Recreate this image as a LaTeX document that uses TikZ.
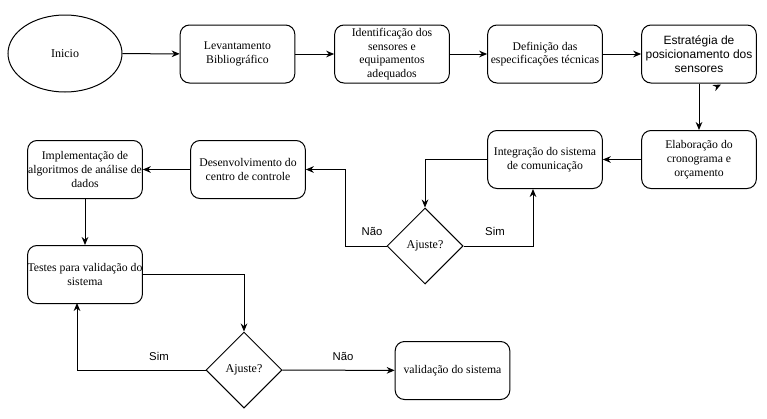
\documentclass[tikz,border=0pt]{standalone}
\usepackage{fontspec}
\setmainfont{Liberation Serif}
\setsansfont{Liberation Sans}
\usetikzlibrary{shapes.geometric,arrows.meta}

\begin{document}
\begin{tikzpicture}[x=0.75pt, y=-0.75pt, >={Stealth[length=6pt,width=5pt]},
    every path/.style={line width=0.75pt},
    box/.style={draw, rounded corners=7pt, minimum width=86pt, minimum height=43.5pt,
        align=center, inner sep=0pt, font=\fontsize{8.8}{10.3}\selectfont},
    decision/.style={draw, diamond, aspect=1, minimum size=57pt, inner sep=0pt,
        font=\fontsize{9}{10.3}\selectfont},
    lbl/.style={font=\sffamily\fontsize{8.5}{10}\selectfont}]
    \useasboundingbox (0,0) rectangle (767,418);

    % first row
    \node[draw, ellipse, minimum width=85.5pt, minimum height=57.75pt, inner sep=0pt,
        font=\fontsize{9}{10.3}\selectfont] (inicio) at (65,53.5) {Inicio};
    \node[box] (levant) at (237.5,54) {Levantamento\\Bibliográfico};
    \node[box] (ident) at (392,54) {Identificação dos\\sensores e\\equipamentos\\adequados};
    \node[box] (defin) at (545,54) {Definição das\\especificações técnicas};
    \node[box, font=\sffamily\fontsize{9}{10.5}\selectfont] (estrat) at (699,54) {Estratégia de\\posicionamento dos\\sensores};

    % second row
    \node[box] (elab) at (699,159.5) {Elaboração do\\cronograma e\\orçamento};
    \node[box] (integ) at (545,159.5) {Integração do sistema\\de comunicação};
    \node[box] (desenv) at (248,169.5) {Desenvolvimento do\\centro de controle};
    \node[box] (implem) at (85,169.5) {Implementação de\\algoritmos de análise de\\dados};
    \node[decision] (aj1) at (425,246) {Ajuste?};

    % third row
    \node[box] (testes) at (85,274.5) {Testes para validação do\\sistema};
    \node[decision] (aj2) at (244,370) {Ajuste?};
    \node[box] (valid) at (452.5,370.5) {validação do sistema};

    \coordinate (integin) at (533,189);
    \coordinate (testesin) at (77,303);

    \draw[->] (inicio) -- (levant);
    \draw[->] (levant) -- (ident);
    \draw[->] (ident) -- (defin);
    \draw[->] (defin) -- (estrat);
    \draw[->] (estrat) -- (elab);
    \draw[->] (elab) -- (integ);
    \draw[->] (integ.west) -| (aj1.north);
    \draw[->] (aj1.east) -| (integin);
    \draw[->] (aj1.west) -- ++(-41,0) |- (desenv);
    \draw[->] (desenv) -- (implem);
    \draw[->] (implem) -- (testes);
    \draw[->] (testes.east) -| (aj2.north);
    \draw[->] (aj2.west) -| (testesin);
    \draw[->] (aj2) -- (valid);

    % stray tip under the fifth box
    \draw[->] (716,87) -- (721,84.5);

    \node[lbl] at (372,231) {Não};
    \node[lbl] at (495,231) {Sim};
    \node[lbl] at (159,356) {Sim};
    \node[lbl] at (343,356) {Não};
\end{tikzpicture}
\end{document}
